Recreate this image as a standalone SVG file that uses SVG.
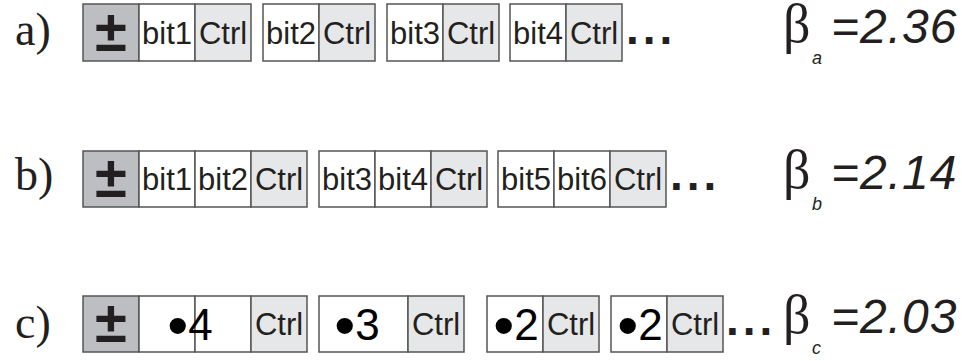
<svg xmlns="http://www.w3.org/2000/svg" width="962" height="361" viewBox="0 0 962 361">
<style>
.c{stroke:#555;stroke-width:1.5}
.pm{fill:#bdbec1}
.w{fill:#fff}
.g{fill:#e6e7e8}
.t{font-family:"Liberation Sans",Arial,sans-serif;font-size:31px;fill:#231f20;text-anchor:middle}
.big{font-family:"Liberation Sans",Arial,sans-serif;font-size:44px;fill:#000;text-anchor:middle}
.bul{font-size:60px}
.pmt{font-family:"Liberation Sans",Arial,sans-serif;font-size:58px;font-weight:bold;fill:#231f20;text-anchor:middle}
.lab{font-family:"Liberation Serif","Times New Roman",serif;font-size:46px;fill:#231f20}
.dots{font-family:"Liberation Sans",Arial,sans-serif;font-size:46px;font-weight:bold;fill:#231f20;letter-spacing:4px}
.beta{font-family:"Liberation Serif","Times New Roman",serif;font-size:54px;fill:#231f20}
.sub{font-family:"Liberation Sans",Arial,sans-serif;font-size:18px;font-style:italic;fill:#231f20}
.val{font-family:"Liberation Sans",Arial,sans-serif;font-size:48px;font-style:italic;fill:#231f20;letter-spacing:1px}
</style>
<rect width="962" height="361" fill="#fff"/>

<!-- Row a -->
<g id="row-a">
<text class="lab" x="15" y="45">a)</text>
<g id="a-word1">
<rect class="c pm" x="83" y="4" width="56" height="57"/>
<rect class="c w" x="139" y="4" width="56" height="57"/>
<rect class="c g" x="195" y="4" width="56" height="57"/>
<text class="pmt" x="111" y="51">±</text>
<text class="t" x="167" y="44">bit1</text>
<text class="t" x="223" y="44">Ctrl</text>
</g>
<g id="a-word2">
<rect class="c w" x="263" y="4" width="56" height="57"/>
<rect class="c g" x="319" y="4" width="56" height="57"/>
<text class="t" x="291" y="44">bit2</text>
<text class="t" x="347" y="44">Ctrl</text>
</g>
<g id="a-word3">
<rect class="c w" x="387" y="4" width="56" height="57"/>
<rect class="c g" x="443" y="4" width="56" height="57"/>
<text class="t" x="415" y="44">bit3</text>
<text class="t" x="471" y="44">Ctrl</text>
</g>
<g id="a-word4">
<rect class="c w" x="510" y="4" width="56" height="57"/>
<rect class="c g" x="566" y="4" width="56" height="57"/>
<text class="t" x="538" y="44">bit4</text>
<text class="t" x="594" y="44">Ctrl</text>
</g>
<text class="dots" x="626" y="44">...</text>
<text class="beta" x="783" y="42">β</text>
<text class="sub" x="812" y="64">a</text>
<text class="val" x="831" y="43">=2.36</text>
</g>

<!-- Row b -->
<g id="row-b">
<text class="lab" x="15" y="190">b)</text>
<g id="b-word1">
<rect class="c pm" x="83" y="151" width="56" height="56"/>
<rect class="c w" x="139" y="151" width="56" height="56"/>
<rect class="c w" x="195" y="151" width="56" height="56"/>
<rect class="c g" x="251" y="151" width="56" height="56"/>
<text class="pmt" x="111" y="197">±</text>
<text class="t" x="167" y="190">bit1</text>
<text class="t" x="223" y="190">bit2</text>
<text class="t" x="279" y="190">Ctrl</text>
</g>
<g id="b-word2">
<rect class="c w" x="319" y="151" width="56" height="56"/>
<rect class="c w" x="375" y="151" width="56" height="56"/>
<rect class="c g" x="431" y="151" width="56" height="56"/>
<text class="t" x="347" y="190">bit3</text>
<text class="t" x="403" y="190">bit4</text>
<text class="t" x="459" y="190">Ctrl</text>
</g>
<g id="b-word3">
<rect class="c w" x="498" y="151" width="56" height="56"/>
<rect class="c w" x="554" y="151" width="56" height="56"/>
<rect class="c g" x="610" y="151" width="56" height="56"/>
<text class="t" x="526" y="190">bit5</text>
<text class="t" x="582" y="190">bit6</text>
<text class="t" x="638" y="190">Ctrl</text>
</g>
<text class="dots" x="670" y="190">...</text>
<text class="beta" x="783" y="188">β</text>
<text class="sub" x="812" y="210">b</text>
<text class="val" x="831" y="189">=2.14</text>
</g>

<!-- Row c -->
<g id="row-c">
<text class="lab" x="15" y="338">c)</text>
<g id="c-word1">
<rect class="c pm" x="83" y="296" width="56" height="56"/>
<rect class="c w" x="139" y="296" width="56" height="56"/>
<rect class="c w" x="195" y="296" width="56" height="56"/>
<rect class="c g" x="251" y="296" width="56" height="56"/>
<text class="pmt" x="111" y="342">±</text>
<text class="big" x="190" y="340"><tspan class="bul" dy="6">•</tspan><tspan dy="-6">4</tspan></text>
<text class="t" x="279" y="335">Ctrl</text>
</g>
<g id="c-word2">
<rect class="c w" x="319" y="296" width="89" height="56"/>
<rect class="c g" x="408" y="296" width="56" height="56"/>
<text class="big" x="357" y="340"><tspan class="bul" dy="6">•</tspan><tspan dy="-6">3</tspan></text>
<text class="t" x="436" y="335">Ctrl</text>
</g>
<g id="c-word3">
<rect class="c w" x="487" y="296" width="56" height="56"/>
<rect class="c g" x="543" y="296" width="56" height="56"/>
<text class="big" x="516" y="340"><tspan class="bul" dy="6">•</tspan><tspan dy="-6">2</tspan></text>
<text class="t" x="571" y="335">Ctrl</text>
</g>
<g id="c-word4">
<rect class="c w" x="611" y="296" width="56" height="56"/>
<rect class="c g" x="667" y="296" width="56" height="56"/>
<text class="big" x="640" y="340"><tspan class="bul" dy="6">•</tspan><tspan dy="-6">2</tspan></text>
<text class="t" x="695" y="335">Ctrl</text>
</g>
<text class="dots" x="726" y="335">...</text>
<text class="beta" x="783" y="333">β</text>
<text class="sub" x="812" y="354">c</text>
<text class="val" x="831" y="333">=2.03</text>
</g>
</svg>
